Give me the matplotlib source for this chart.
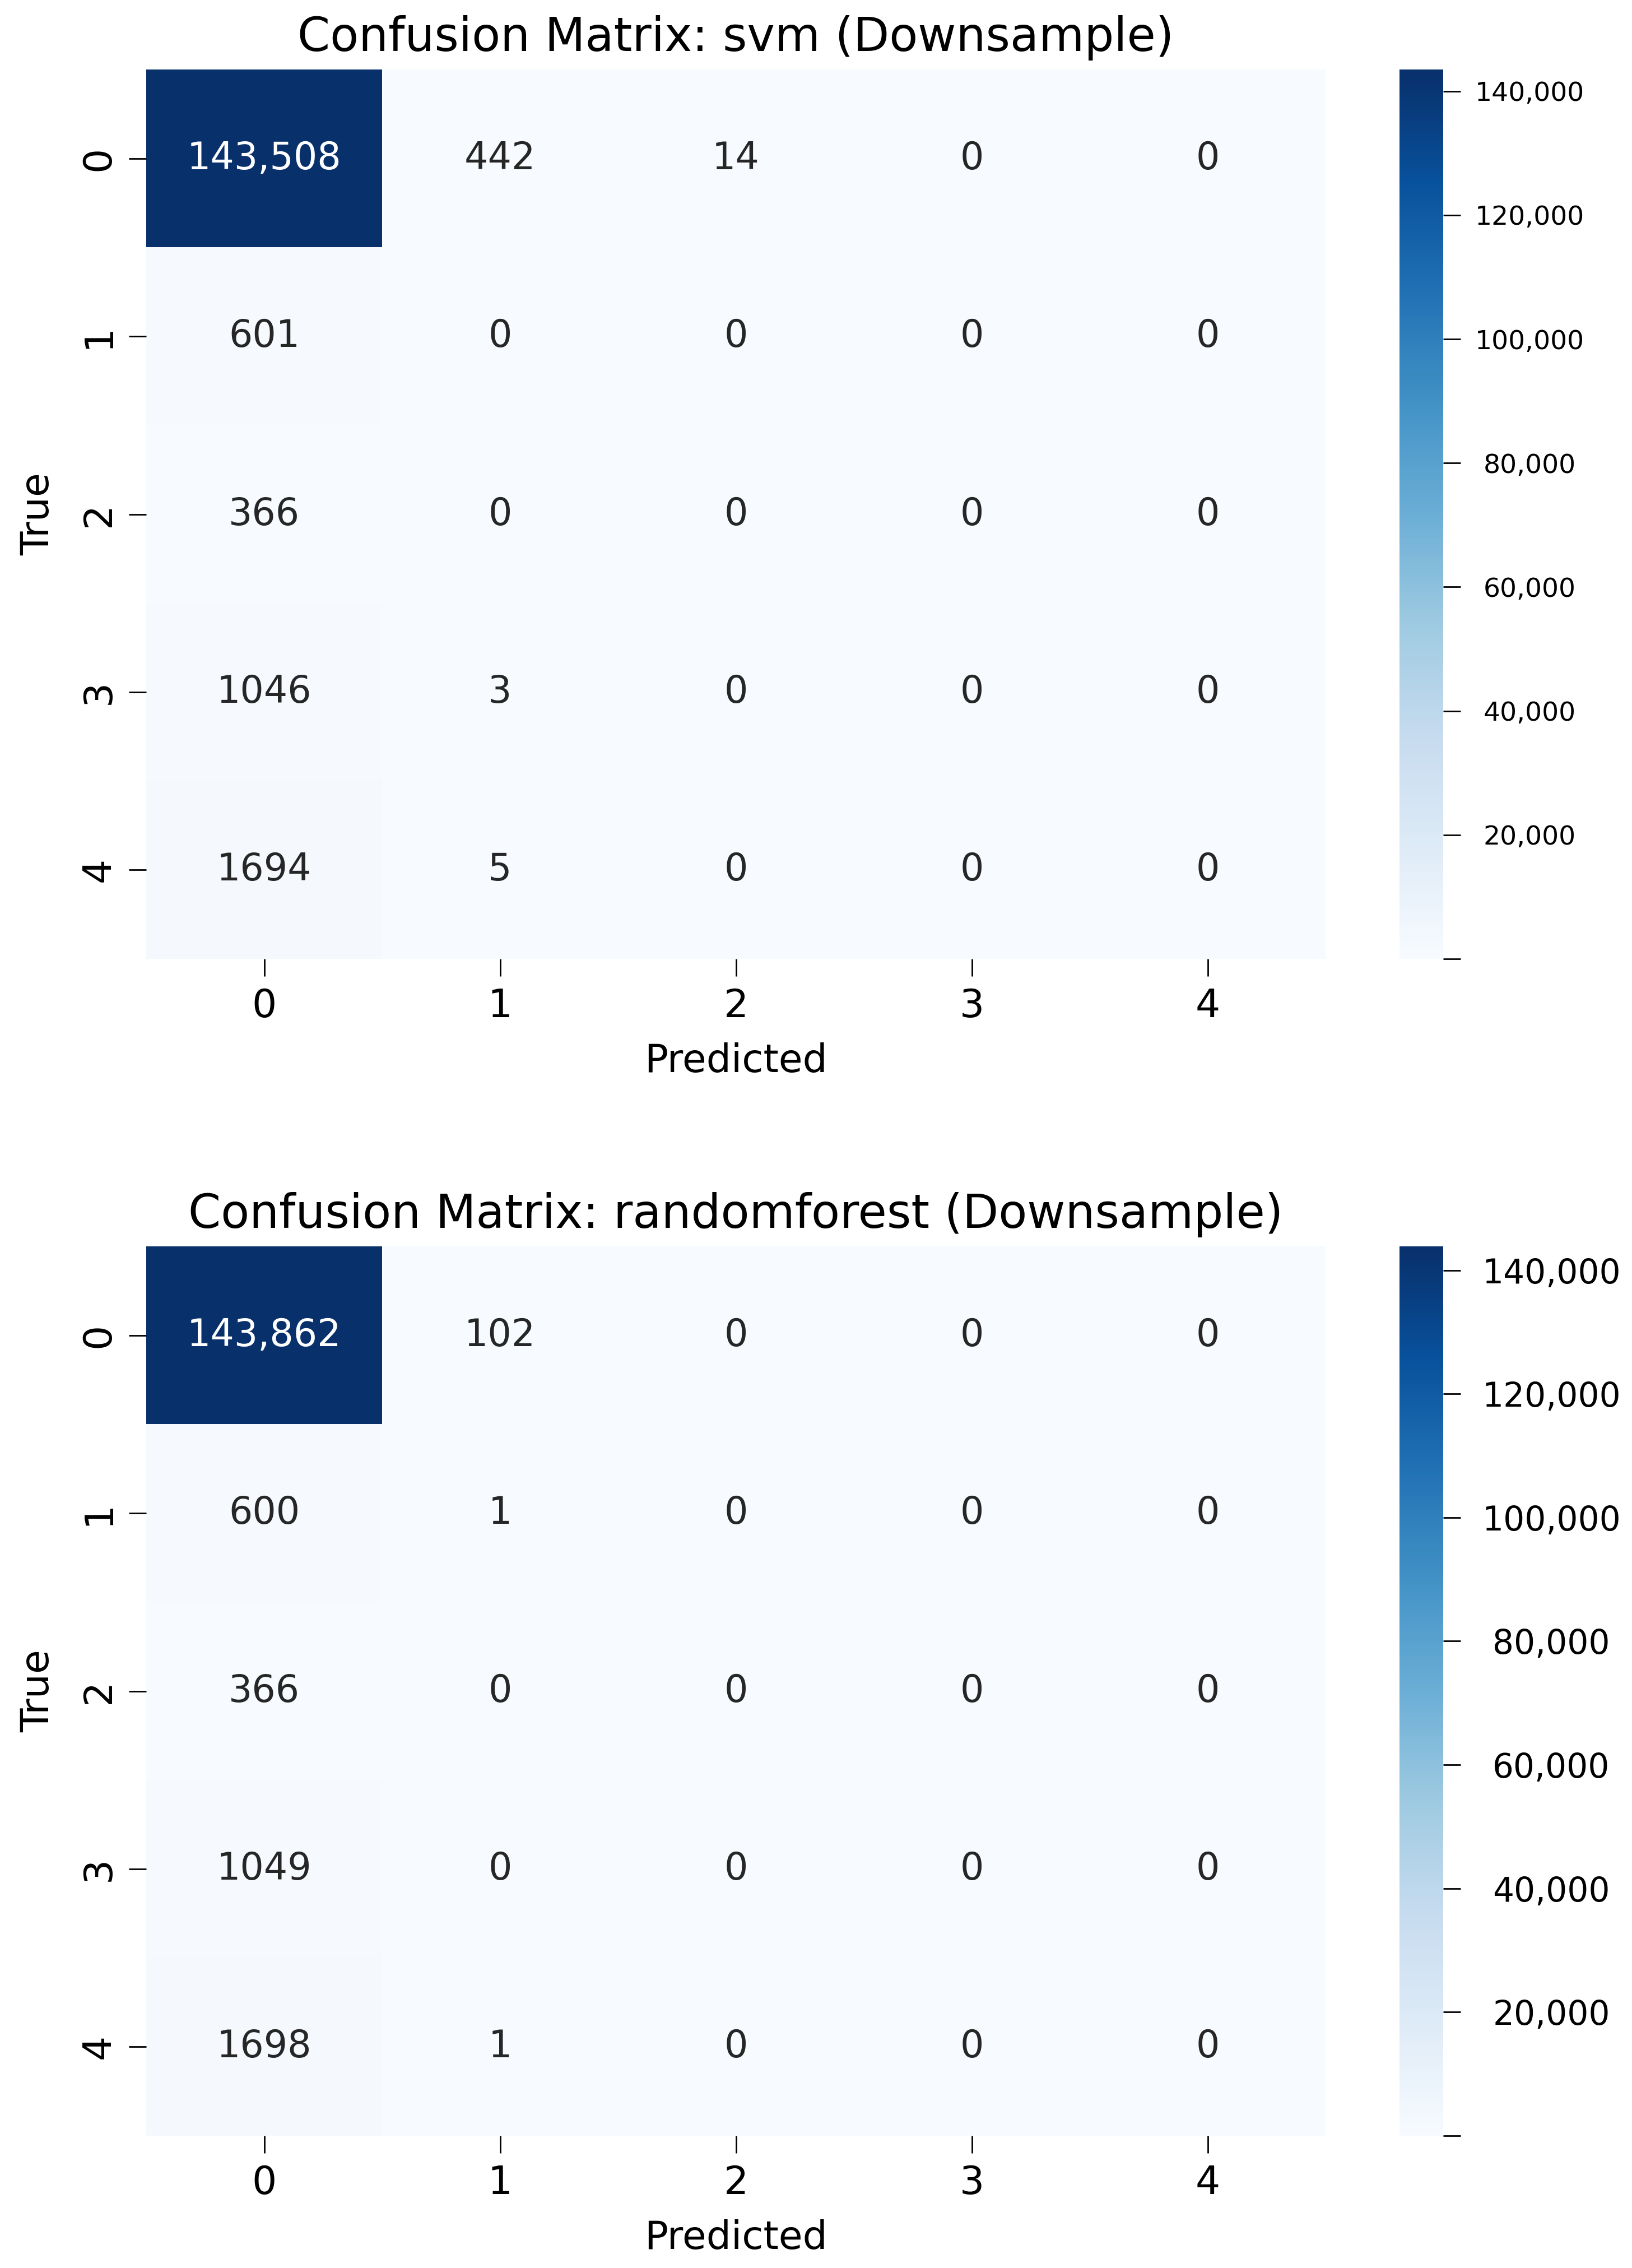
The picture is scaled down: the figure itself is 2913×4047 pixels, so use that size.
import numpy as np
import matplotlib
matplotlib.use("Agg")
import matplotlib.pyplot as plt
import seaborn as sns
from matplotlib.ticker import FuncFormatter

# ---------------- data ----------------
classes = ["0", "1", "2", "3", "4"]
svm_cm = [
    [143508, 442, 14, 0, 0],
    [601, 0, 0, 0, 0],
    [366, 0, 0, 0, 0],
    [1046, 3, 0, 0, 0],
    [1694, 5, 0, 0, 0],
]
rf_cm = [
    [143862, 102, 0, 0, 0],
    [600, 1, 0, 0, 0],
    [366, 0, 0, 0, 0],
    [1049, 0, 0, 0, 0],
    [1698, 1, 0, 0, 0],
]
titles = ["Confusion Matrix: svm (Downsample)",
          "Confusion Matrix: randomforest (Downsample)"]
cbar_ticks = [0, 20000, 40000, 60000, 80000, 100000, 120000, 140000]

plt.rcParams["font.family"] = ["DejaVu Sans"]

W, H = 2913, 4047
fig = plt.figure(figsize=(W / 100, H / 100), dpi=100)


def fx(px):
    return px / W


def fy(px):
    return 1 - px / H


panels = [
    dict(cm=svm_cm, title=titles[0], top=124, bottom=1711, cbar_fs=34, cbar_pad=89),
    dict(cm=rf_cm, title=titles[1], top=2224, bottom=3811, cbar_fs=43, cbar_pad=117),
]

ax_left, ax_right = 261, 2366
cb_left, cb_right = 2498, 2576

for p in panels:
    data = np.array(p["cm"])
    labels = np.array([[f"{v:,}" if v >= 10000 else str(v) for v in row] for row in p["cm"]])
    ax = fig.add_axes([fx(ax_left), fy(p["bottom"]), fx(ax_right - ax_left),
                       (p["bottom"] - p["top"]) / H])
    cax = fig.add_axes([fx(cb_left), fy(p["bottom"]), fx(cb_right - cb_left),
                        (p["bottom"] - p["top"]) / H])
    sns.heatmap(data, annot=labels, fmt="", cmap="Blues", ax=ax, cbar_ax=cax,
                xticklabels=classes, yticklabels=classes,
                annot_kws={"fontsize": 48},
                cbar_kws={"ticks": cbar_ticks})
    ax.set_title(p["title"], fontsize=60, pad=24)
    ax.set_xlabel("Predicted", fontsize=50, labelpad=22)
    ax.set_ylabel("True", fontsize=50, labelpad=30)
    ax.tick_params(axis="both", labelsize=50, length=22, width=2, pad=15)
    plt.setp(ax.get_yticklabels(), rotation=90, va="center")
    plt.setp(ax.get_xticklabels(), rotation=0)
    cax.yaxis.set_major_formatter(FuncFormatter(lambda x, pos: "" if x == 0 else f"{x:,.0f}"))
    cax.tick_params(labelsize=p["cbar_fs"], length=22, width=2, pad=p["cbar_pad"])
    plt.setp(cax.get_yticklabels(), ha="center")

fig.savefig("out.png", dpi=100, facecolor="white")
